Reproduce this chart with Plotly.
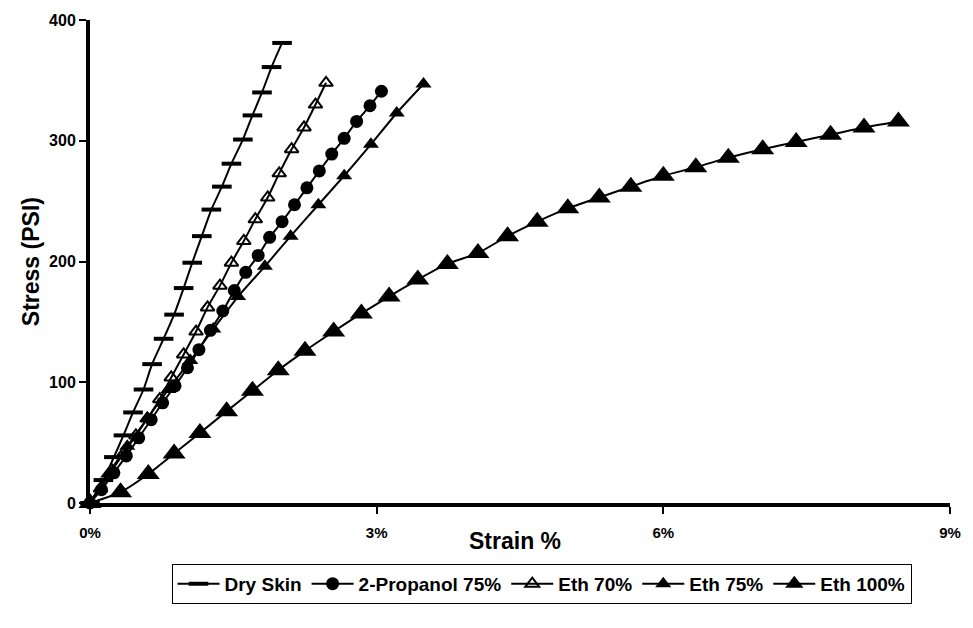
import plotly.graph_objects as go

# Stress-strain data: strain in %, stress in PSI
dry_x = [0, 0.14, 0.25, 0.35, 0.45, 0.56, 0.65, 0.77, 0.88, 0.98, 1.07, 1.17, 1.27,
         1.38, 1.48, 1.60, 1.70, 1.80, 1.90, 2.01]
dry_y = [0, 19, 38, 56, 75, 94, 115, 136, 156, 178, 199, 221, 243, 262, 281, 301,
         321, 340, 361, 381]

prop_x = [0, 0.12, 0.25, 0.38, 0.51, 0.64, 0.76, 0.89, 1.02, 1.14, 1.26, 1.39, 1.51,
          1.63, 1.76, 1.88, 2.01, 2.14, 2.27, 2.40, 2.53, 2.66, 2.79, 2.93, 3.05]
prop_y = [0, 11, 25, 39, 54, 69, 83, 97, 112, 127, 143, 159, 176, 191, 205, 220, 233,
          247, 261, 275, 289, 302, 316, 329, 341]

eth70_x = [0, 0.11, 0.23, 0.36, 0.48, 0.60, 0.73, 0.85, 0.98, 1.11, 1.23, 1.36, 1.48,
           1.61, 1.73, 1.86, 1.98, 2.11, 2.24, 2.36, 2.47]
eth70_y = [0, 12, 27, 42, 56, 70, 86, 104, 123, 142, 162, 180, 199, 217, 235, 253, 273,
           293, 311, 330, 348]

eth75_x = [0, 0.19, 0.39, 0.60, 0.82, 1.05, 1.29, 1.55, 1.83, 2.10, 2.39, 2.66, 2.94,
           3.21, 3.49]
eth75_y = [0, 24, 47, 70, 94, 118, 144, 171, 196, 221, 247, 271, 297, 323, 347]

eth100_x = [0, 0.32, 0.61, 0.88, 1.15, 1.43, 1.70, 1.97, 2.25, 2.55, 2.84, 3.13, 3.43,
            3.74, 4.06, 4.37, 4.68, 5.00, 5.33, 5.66, 6.00, 6.34, 6.68, 7.04, 7.39,
            7.75, 8.10, 8.46]
eth100_y = [0, 9, 24, 41, 58, 76, 93, 110, 126, 142, 157, 171, 185, 198, 207, 221, 233,
            244, 253, 262, 271, 278, 286, 293, 299, 305, 311, 316]

x_ticks = [0, 3, 6, 9]
x_tick_text = ["0%", "3%", "6%", "9%"]
y_ticks = [0, 100, 200, 300, 400]

FONT = "Liberation Sans, Arial, sans-serif"
BLACK = "#000000"

fig = go.Figure()

series = [
    ("Dry Skin", dry_x, dry_y, dict(symbol="line-ew", size=14,
                                     line=dict(width=4, color=BLACK))),
    ("2-Propanol 75%", prop_x, prop_y, dict(symbol="circle", size=13, color=BLACK,
                                            line=dict(width=0))),
    ("Eth 70%", eth70_x, eth70_y, dict(symbol="triangle-up-open", size=12, color=BLACK,
                                       line=dict(width=2, color=BLACK))),
    ("Eth 75%", eth75_x, eth75_y, dict(symbol="triangle-up", size=14, color=BLACK,
                                       line=dict(width=0))),
    ("Eth 100%", eth100_x, eth100_y, dict(symbol="triangle-up", size=20, color=BLACK,
                                          line=dict(width=0))),
]

for name, xs, ys, marker in series:
    fig.add_trace(go.Scatter(
        x=xs, y=ys, name=name, mode="lines+markers",
        line=dict(color=BLACK, width=2, shape="spline", smoothing=0.6),
        marker=marker, cliponaxis=False,
    ))

fig.update_layout(
    width=973, height=628,
    margin=dict(l=90, r=12, t=17, b=125),
    paper_bgcolor="white", plot_bgcolor="white",
    font=dict(family=FONT, color=BLACK),
    showlegend=True,
    legend=dict(
        orientation="h", x=0.525, xanchor="center", y=-0.126, yanchor="top",
        bordercolor=BLACK, borderwidth=1, bgcolor="white",
        font=dict(size=19, family=FONT, color=BLACK, weight="bold"),
        itemwidth=42, tracegroupgap=0,
    ),
    xaxis=dict(
        range=[0, 9], tickvals=x_ticks, ticktext=x_tick_text,
        showgrid=False, zeroline=False,
        showline=True, linewidth=4, linecolor=BLACK,
        ticks="outside", ticklen=7, tickwidth=2, tickcolor=BLACK,
        ticklabelstandoff=6,
        tickfont=dict(size=15, family=FONT, color=BLACK, weight="bold"),
    ),
    yaxis=dict(
        range=[0, 400], tickvals=y_ticks,
        showgrid=False, zeroline=False,
        showline=True, linewidth=4, linecolor=BLACK,
        ticks="outside", ticklen=7, tickwidth=2, tickcolor=BLACK,
        tickfont=dict(size=16, family=FONT, color=BLACK, weight="bold"),
    ),
    annotations=[
        dict(text="Strain %", xref="paper", yref="paper", x=0.494, y=-0.078,
             xanchor="center", yanchor="middle", showarrow=False,
             font=dict(size=23, family=FONT, color=BLACK, weight="bold")),
        dict(text="Stress (PSI)", xref="paper", yref="paper", x=-0.069, y=0.5,
             xanchor="center", yanchor="middle", showarrow=False, textangle=-90,
             font=dict(size=23, family=FONT, color=BLACK, weight="bold")),
    ],
)

fig.write_html("out.html")
